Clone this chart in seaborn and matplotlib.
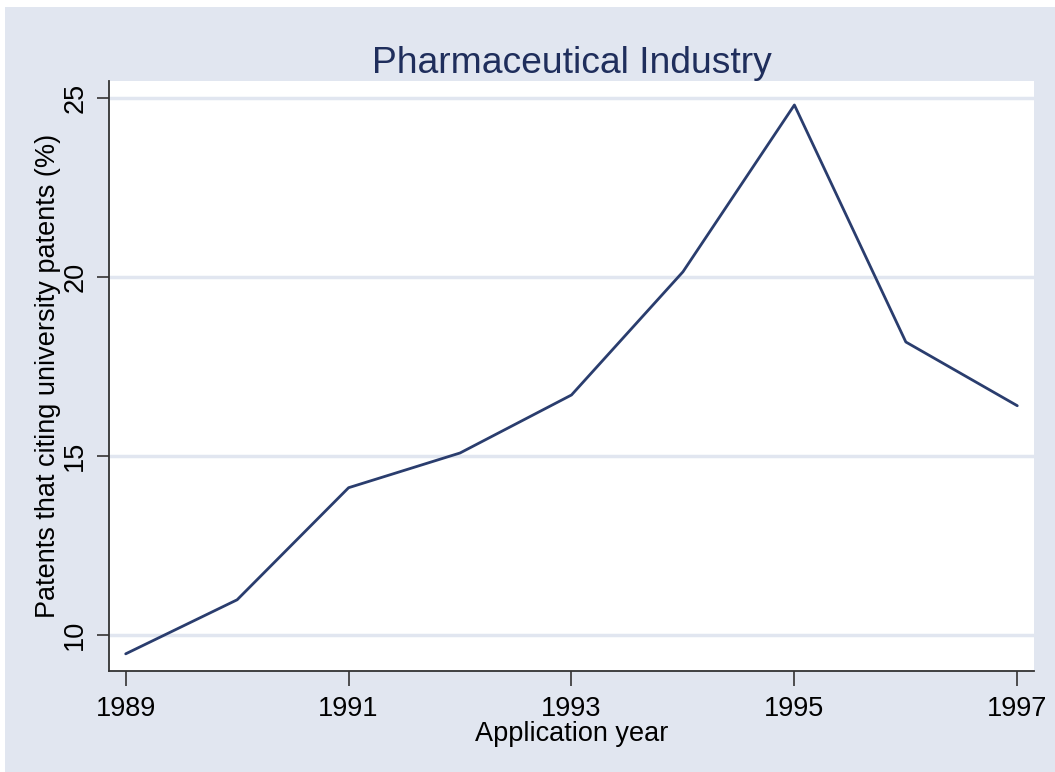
import matplotlib
matplotlib.use("Agg")
import matplotlib.pyplot as plt
import seaborn as sns
import pandas as pd

years = [1989, 1990, 1991, 1992, 1993, 1994, 1995, 1996, 1997]
share = [9.47, 10.98, 14.11, 15.08, 16.70, 20.14, 24.80, 18.18, 16.40]
x_ticks = [1989, 1991, 1993, 1995, 1997]
y_ticks = [10, 15, 20, 25]

bg = "#E1E6F0"
navy = "#1F2E5C"
line_col = "#2A3D6E"

sns.set_style("white")
plt.rcParams["font.family"] = ["Liberation Sans", "DejaVu Sans"]
plt.rcParams["text.color"] = "black"
plt.rcParams["axes.labelcolor"] = "black"
plt.rcParams["xtick.color"] = "black"
plt.rcParams["ytick.color"] = "black"

df = pd.DataFrame({"year": years, "share": share})

fig = plt.figure(figsize=(10.55, 7.72), dpi=100, facecolor="white")
# stata-like graph region with thin white edge at top/left
fig.patches.append(plt.Rectangle((5 / 1055, 0), 1, 1 - 7 / 772, transform=fig.transFigure,
                                 facecolor=bg, edgecolor="none", zorder=-5))
ax = fig.add_axes([0.1033, 0.1308, 0.8768, 0.7643])
ax.set_facecolor("white")

for y in y_ticks:
    ax.axhline(y, color=bg, lw=2.5, zorder=1)

sns.lineplot(data=df, x="year", y="share", ax=ax, color=line_col, lw=2, zorder=3)

ax.set_xlim(1988.85, 1997.15)
ax.set_ylim(8.99, 25.47)
ax.set_xticks(x_ticks)
ax.set_xticklabels([str(t) for t in x_ticks])
ax.set_yticks(y_ticks)
ax.set_yticklabels([str(t) for t in y_ticks], rotation=90, va="center")

for s in ["top", "right"]:
    ax.spines[s].set_visible(False)
for s in ["left", "bottom"]:
    ax.spines[s].set_color("#333333")
    ax.spines[s].set_linewidth(1.3)

ax.tick_params(axis="x", direction="out", length=11, width=1.2, color="#333333",
               labelsize=19.5, pad=7, bottom=True)
ax.tick_params(axis="y", direction="out", length=9, width=1.2, color="#333333",
               labelsize=19.5, pad=6, left=True)

ax.set_xlabel("Application year", fontsize=19.5, labelpad=-1)
ax.set_ylabel("Patents that citing university patents (%)", fontsize=19.5, labelpad=1)
ax.set_title("Pharmaceutical Industry", fontsize=26.8, color=navy, pad=6)

fig.savefig("out.png", dpi=100, facecolor=fig.get_facecolor())
